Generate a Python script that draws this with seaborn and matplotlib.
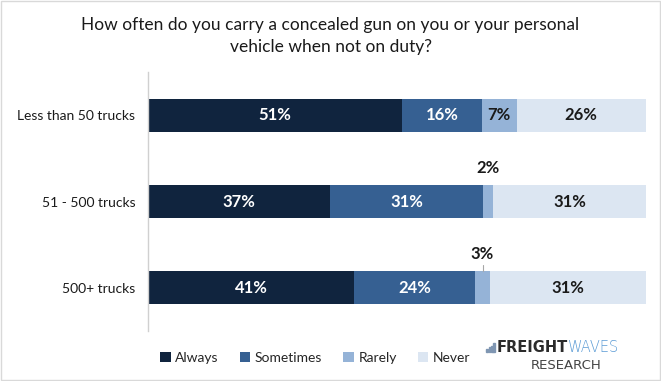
import matplotlib.pyplot as plt
import numpy as np
import pandas as pd
import seaborn as sns
from matplotlib.patches import Patch, Rectangle

sns.set_theme(style="white")
plt.rcParams['font.family'] = ['Lato', 'DejaVu Sans']

groups = ['Less than 50 trucks', '51 - 500 trucks', '500+ trucks']
answers = ['Always', 'Sometimes', 'Rarely', 'Never']
always = [51, 37, 41]
sometimes = [16, 31, 24]
rarely = [7, 2, 3]
never = [26, 31, 31]
colors = ['#10243e', '#366092', '#95b3d7', '#dce6f2']
label_colors = ['white', 'white', '#1a1a1a', '#1a1a1a']

df = pd.DataFrame({'group': groups, 'Always': always, 'Sometimes': sometimes,
                   'Rarely': rarely, 'Never': never})
# survey percentages are rounded, so scale each row to a full bar
totals = df[answers].sum(axis=1)
shares = df[answers].div(totals, axis=0) * 100
cum = shares.cumsum(axis=1)

fig = plt.figure(figsize=(6.61, 3.81), dpi=100)
ax = fig.add_axes([0.2239, 0.131, 0.7534, 0.680])

# draw cumulative bars from longest to shortest so they stack
for ans, col in reversed(list(zip(answers, colors))):
    sns.barplot(x=cum[ans], y=df['group'], color=col, width=0.384,
                saturation=1, orient='h', ax=ax, edgecolor='none')

for i in range(len(groups)):
    for j, ans in enumerate(answers):
        val = df[ans][i]
        right = cum[ans][i]
        mid = right - shares[ans][i] / 2
        if val <= 3:
            ax.text(mid, i - 0.3, f'{val}%', ha='center', va='bottom', fontsize=12,
                    fontweight='bold', color='#1a1a1a')
            if val == 3:
                ax.plot([mid, mid], [i - 0.195, i - 0.27], color='#a6a6a6', lw=0.8)
        else:
            ax.text(mid, i, f'{val}%', ha='center', va='center', fontsize=12,
                    fontweight='bold', color=label_colors[j])

ax.set_xlim(0, 100)
ax.set_ylim(2.5, -0.5)
ax.set_xlabel('')
ax.set_ylabel('')
ax.set_xticks([])
ax.tick_params(axis='y', length=0, pad=9, labelsize=10, labelcolor='#1a1a1a')
for s in ['top', 'right', 'bottom']:
    ax.spines[s].set_visible(False)
ax.spines['left'].set_color('#d0d0d0')
ax.spines['left'].set_linewidth(1)

fig.text(0.5, 0.935, 'How often do you carry a concealed gun on you or your personal',
         ha='center', va='center', fontsize=12.5, color='#1a1a1a')
fig.text(0.5, 0.877, 'vehicle when not on duty?', ha='center', va='center',
         fontsize=12.5, color='#1a1a1a')

handles = [Patch(facecolor=c, edgecolor='none') for c in colors]
fig.legend(handles, answers, loc='center', bbox_to_anchor=(0.477, 0.06), ncol=4,
           frameon=False, fontsize=10, handlelength=0.75, handleheight=0.75,
           handletextpad=0.35, columnspacing=1.5)

# logo
t1 = fig.text(0.752, 0.087, 'FREIGHT', fontsize=10.5, fontweight='heavy',
              color='#2b2b2b', va='center', ha='left', family='DejaVu Sans')
fig.canvas.draw()
bb = t1.get_window_extent()
fig.text(bb.x1 / fig.bbox.width, 0.087, 'WAVES', fontsize=10.5, fontweight='light',
         color='#5b9bd5', va='center', ha='left', family='DejaVu Sans')
fig.text(0.856, 0.04, 'RESEARCH', fontsize=9.5, color='#444444', va='center',
         ha='center', family='DejaVu Sans')
for k, h in enumerate([0.35, 0.55, 0.75, 1.0]):
    fig.patches.append(Rectangle((0.736 + k * 0.0035, 0.075), 0.0025, 0.024 * h,
                                 transform=fig.transFigure, color='#7f96b2'))

fig.patches.append(Rectangle((0.001, 0.002), 0.997, 0.995, transform=fig.transFigure,
                             fill=False, edgecolor='#d9d9d9', lw=1))

fig.savefig('out.png', dpi=100)
